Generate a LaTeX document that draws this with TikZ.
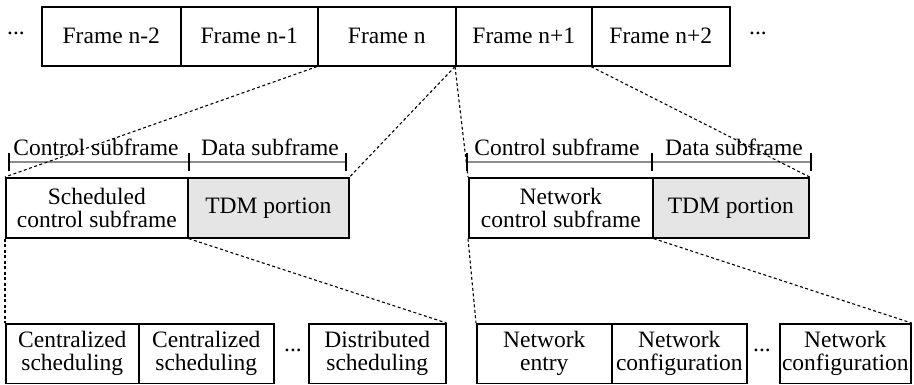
\documentclass[tikz,border=0pt]{standalone}
\usepackage{fontspec}
\setmainfont{Liberation Serif}
\begin{document}
\begin{tikzpicture}[x=1pt,y=-1pt,
  box/.style={draw, line width=1.6pt, anchor=north west, inner sep=0pt, align=center, font=\fontsize{23.5}{23}\selectfont},
  grey/.style={fill=black!10},
  lbl/.style={inner sep=0pt, font=\fontsize{23.5}{23}\selectfont},
  conn/.style={dashed, dash pattern=on 3pt off 2.5pt, line width=1.1pt},
  tick/.style={line width=2.6pt},
  brk/.style={draw=black!45, line width=1.2pt}]
\useasboundingbox (0,0) rectangle (914,384);
% top frames
\node[box, minimum width=139, minimum height=59] (f1) at (41,6) {Frame n-2};
\node[box, minimum width=137, minimum height=59] (f2) at (180,6) {Frame n-1};
\node[box, minimum width=138, minimum height=59] (f3) at (317,6) {Frame n};
\node[box, minimum width=136, minimum height=59] (f4) at (455,6) {Frame n+1};
\node[box, minimum width=138, minimum height=59] (f5) at (591,6) {Frame n+2};
\node[lbl] (dl) at (16,33) {...};
\node[lbl] (dr) at (758,33) {...};
% middle left
\node[box, minimum width=182, minimum height=60] (sc) at (5,177) {Scheduled\\control subframe};
\node[box, grey, minimum width=161, minimum height=60] (tdm1) at (187,177) {TDM portion};
% middle right
\node[box, minimum width=184, minimum height=60] (nc) at (468,177) {Network\\control subframe};
\node[box, grey, minimum width=156, minimum height=60] (tdm2) at (652,177) {TDM portion};
% brackets
\draw[brk] (9,162) -- (346,162);
\draw[tick] (9,153) -- (9,171);
\draw[tick] (189,153) -- (189,171);
\draw[tick] (346,153) -- (346,171);
\node[lbl, anchor=base] (cl1) at (96,155) {Control subframe};
\node[lbl, anchor=base] (dl1) at (270,155) {Data subframe};
\draw[brk] (467,162) -- (811,162);
\draw[tick] (467,153) -- (467,171);
\draw[tick] (652,153) -- (652,171);
\draw[tick] (811,153) -- (811,171);
\node[lbl, anchor=base] (cl2) at (557,155) {Control subframe};
\node[lbl, anchor=base] (dl2) at (734,155) {Data subframe};
% bottom left
\node[box, minimum width=133, minimum height=59.5] (b1) at (5,323) {Centralized\\scheduling};
\node[box, minimum width=135, minimum height=59.5] (b2) at (138,323) {Centralized\\scheduling};
\node[box, minimum width=137, minimum height=59.5] (b3) at (308,323) {Distributed\\scheduling};
\node[lbl] (dm1) at (293,350) {...};
% bottom right
\node[box, minimum width=135, minimum height=59.5] (c1) at (476,323) {Network\\entry};
\node[box, minimum width=135, minimum height=59.5] (c2) at (611,323) {Network\\configuration};
\node[box, minimum width=131, minimum height=59.5] (c3) at (779,323) {Network\\configuration};
\node[lbl] (dm2) at (762,350) {...};
% connectors
\draw[conn] (f3.south west) -- (sc.north west);
\draw[conn] (f4.south west) -- (tdm1.north east);
\draw[conn] (f4.south west) -- (nc.north west);
\draw[conn] (f5.south west) -- (tdm2.north east);
\draw[conn] (sc.south west) -- (b1.north west);
\draw[conn] (sc.south east) -- (b3.north east);
\draw[conn] (nc.south west) -- (c1.north west);
\draw[conn] (nc.south east) -- (c3.north east);
\end{tikzpicture}
\end{document}
